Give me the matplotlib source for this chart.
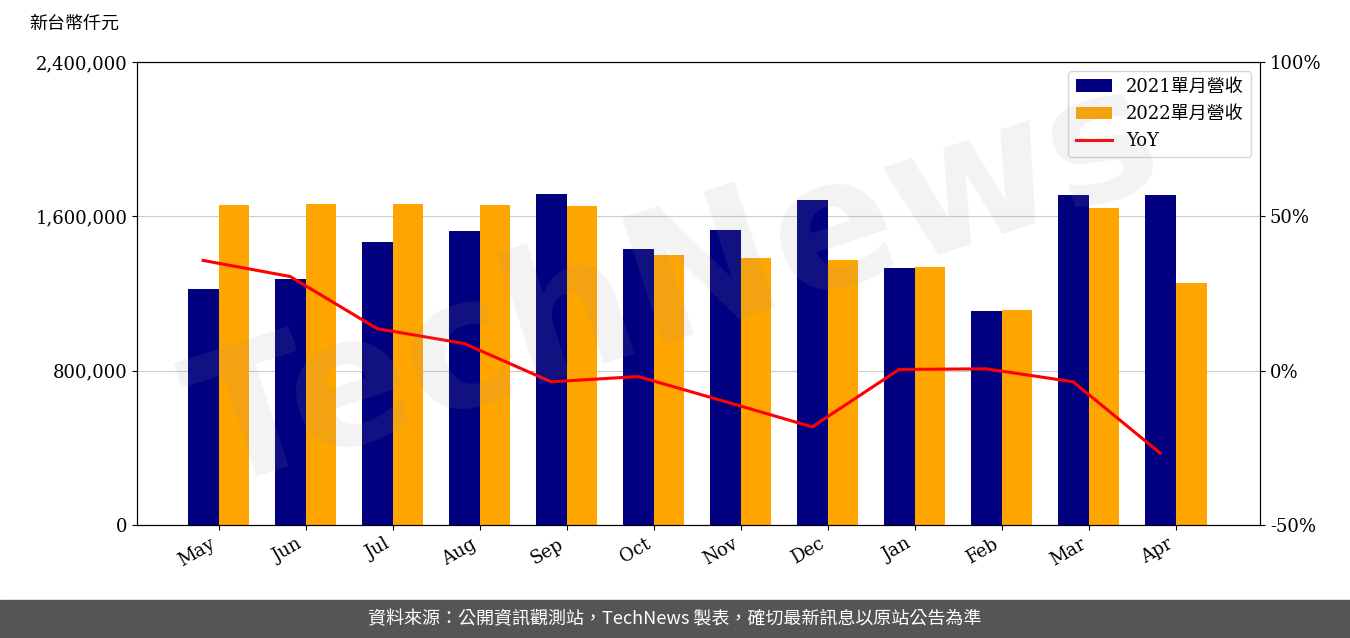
import matplotlib.pyplot as plt
import numpy as np
from matplotlib.ticker import FuncFormatter

plt.rcParams['font.family'] = ['DejaVu Serif', 'Noto Sans CJK TC']

months = ["May", "Jun", "Jul", "Aug", "Sep", "Oct", "Nov", "Dec", "Jan", "Feb", "Mar", "Apr"]
rev_2021 = [1223000, 1275000, 1467000, 1524000, 1716000, 1431000, 1529000, 1685000, 1332000, 1109000, 1711000, 1711000]
rev_2022 = [1659000, 1664000, 1664000, 1659000, 1654000, 1400000, 1384000, 1374000, 1337000, 1114000, 1643000, 1254000]
yoy = [35.7, 30.5, 13.6, 8.8, -3.6, -1.9, -10.0, -18.2, 0.4, 0.6, -3.6, -26.7]

fig = plt.figure(figsize=(13.5, 6.38), dpi=100)
ax = fig.add_axes([0.1015, 0.177, 0.832, 0.726])
x = np.arange(len(months))
w = 0.355

ax.bar(x, rev_2021, w, color='#000080', label='2021單月營收', zorder=2)
ax.bar(x + w, rev_2022, w, color='#FFA500', label='2022單月營收', zorder=2)
ax.set_ylim(0, 2400000)
ax.set_yticks([0, 800000, 1600000, 2400000])
ax.yaxis.set_major_formatter(FuncFormatter(lambda v, p: f"{int(v):,}"))
ax.grid(axis='y', color='#cccccc', zorder=0)
ax.set_xlim(-0.76, 12.15)
ax.set_xticks(x + w / 2)
ax.set_xticklabels(months, rotation=30, ha='right')
ax.tick_params(labelsize=13)

ax2 = ax.twinx()
ax2.plot(x, yoy, color='red', lw=2.2, label='YoY')
ax2.set_ylim(-50, 100)
ax2.set_yticks([-50, 0, 50, 100])
ax2.yaxis.set_major_formatter(FuncFormatter(lambda v, p: f"{int(v)}%"))
ax2.tick_params(labelsize=13)

h1, l1 = ax.get_legend_handles_labels()
h2, l2 = ax2.get_legend_handles_labels()
ax2.legend(h1 + h2, l1 + l2, loc='upper right',
           prop={'size': 13, 'family': ['DejaVu Serif', 'Noto Sans CJK TC']})

fig.text(0.022, 0.955, '新台幣仟元', fontsize=13, family=['Noto Sans CJK TC'])

# faint watermark
fig.text(0.5, 0.55, 'TechNews', fontsize=130, color='#999999', alpha=0.12, rotation=18,
         ha='center', va='center', family=['DejaVu Sans'], fontweight='bold', zorder=0)

# footer band
fig.patches.append(plt.Rectangle((0, 0), 1, 0.06, transform=fig.transFigure, color='#555555', zorder=-1))
fig.text(0.5, 0.03, '資料來源：公開資訊觀測站，TechNews 製表，確切最新訊息以原站公告為準',
         color='white', fontsize=13, ha='center', va='center', family=['Noto Sans CJK TC'])

fig.savefig('out.png', dpi=100)
